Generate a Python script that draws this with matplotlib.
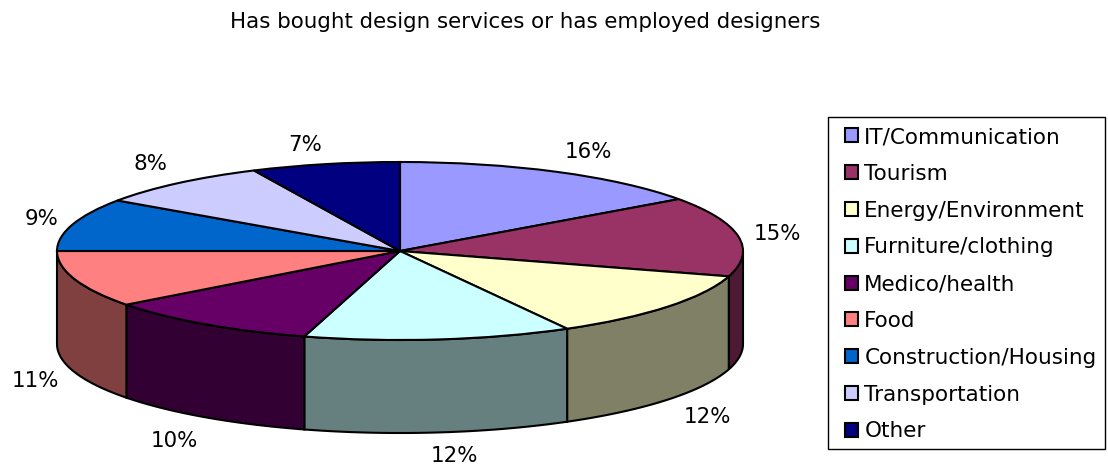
import numpy as np
import matplotlib
matplotlib.use('Agg')
import matplotlib.pyplot as plt
from matplotlib.patches import Rectangle

categories = ['IT/Communication', 'Tourism', 'Energy/Environment', 'Furniture/clothing',
              'Medico/health', 'Food', 'Construction/Housing', 'Transportation', 'Other']
# slice sizes as drawn (the 3D tilt makes them differ a bit from the printed labels)
drawn_shares = [15.1, 14.5, 12.3, 12.6, 10.2, 10.3, 9.6, 8.4, 7.0]
pct_labels = ['16%', '15%', '12%', '12%', '10%', '11%', '9%', '8%', '7%']

top_colors = ['#9999FF', '#993366', '#FFFFCC', '#CCFFFF', '#660066',
              '#FF8080', '#0066CC', '#CCCCFF', '#000080']
side_colors = ['#4D1A33', '#4D1A33', '#808066', '#668080', '#330033',
               '#804040', '#003366', '#666680', '#000040']

# pie geometry in pixels
CX, CY, RX, RY, DEPTH = 400, 251, 343, 89, 93
W, H = 1108, 469


def px(x, y):
    return (x - CX) / RX, (CY - y) / RY


label_pos = [(588, 152), (777, 234), (707, 417), (454, 456), (174, 441),
             (35, 381), (42, 219), (150, 164), (305, 145)]

fig = plt.figure(figsize=(W / 100, H / 100), dpi=100, facecolor='white')
ax = fig.add_axes([0, 0, 1, 1])

depth = DEPTH / RY
edges = np.cumsum([0] + drawn_shares) / sum(drawn_shares) * 2 * np.pi

# side wall, only the front half (90 to 270 deg clockwise from top) shows
for i, color in enumerate(side_colors):
    a0 = max(edges[i], np.pi / 2)
    a1 = min(edges[i + 1], 3 * np.pi / 2)
    if a1 <= a0:
        continue
    t = np.linspace(a0, a1, 60)
    xs = np.sin(t)
    ys = np.cos(t)
    ax.fill(np.r_[xs, xs[::-1]], np.r_[ys, ys[::-1] - depth],
            facecolor=color, edgecolor='black', linewidth=1.5, zorder=1)

wedges, _ = ax.pie(drawn_shares, colors=top_colors, startangle=90, counterclock=False,
                   wedgeprops={'edgecolor': 'black', 'linewidth': 1.5, 'zorder': 2})
ax.set_aspect('auto')
ax.set_xlim(px(0, 0)[0], px(W, 0)[0])
ax.set_ylim(px(0, H)[1], px(0, 0)[1])
ax.axis('off')

for lab, (x, y) in zip(pct_labels, label_pos):
    ax.text(*px(x, y), lab, ha='center', va='center', fontsize=15.4, color='black')

fig.text(525 / W, 1 - 22 / H, 'Has bought design services or has employed designers',
         ha='center', va='center', fontsize=15.4, color='black')

# legend frame drawn apart so the inner padding can be set on its own
fig.add_artist(Rectangle((828 / W, 1 - 449 / H), 277 / W, 332 / H, transform=fig.transFigure,
                         facecolor='white', edgecolor='black', linewidth=1.0))
fig.legend(wedges, categories, loc='upper left', bbox_to_anchor=(845 / W, 1 - 127 / H),
           frameon=False, fontsize=15.5,
           handlelength=0.62, handleheight=0.62, handletextpad=0.28,
           labelspacing=0.78, borderaxespad=0, borderpad=0)

fig.savefig('out.png', dpi=100)
